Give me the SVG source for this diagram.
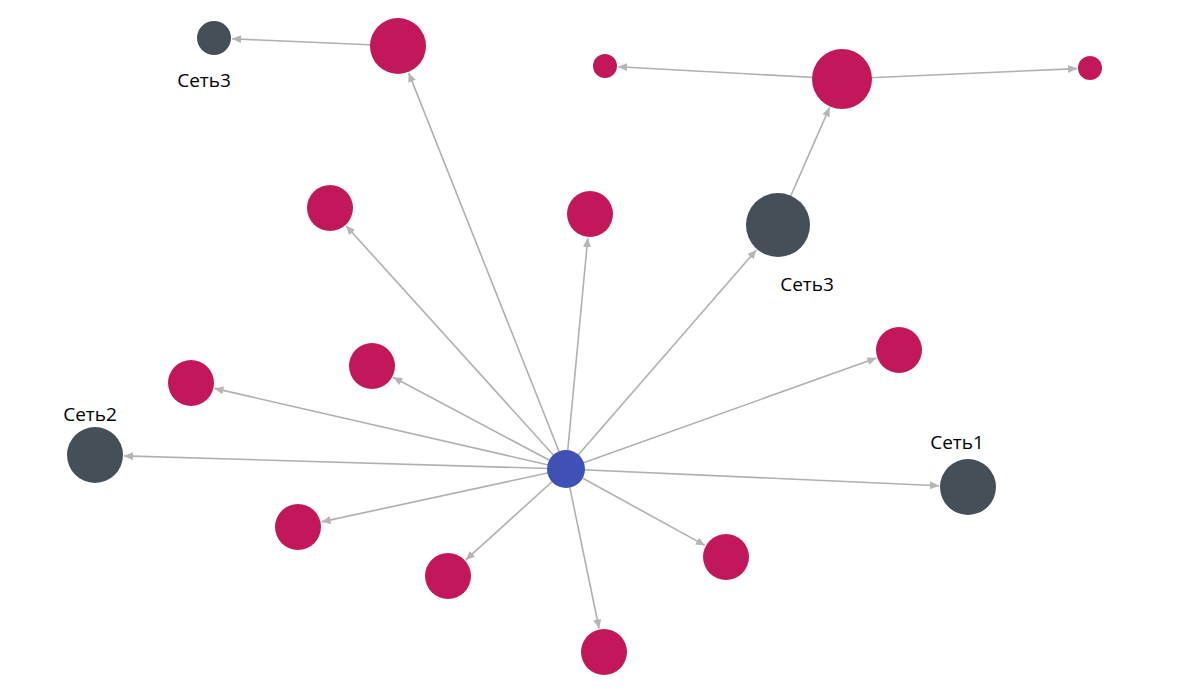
<svg xmlns="http://www.w3.org/2000/svg" width="1201" height="689" viewBox="0 0 1201 689">
<style>
.e{stroke:#b0b0b0;stroke-width:1.6;fill:none;marker-end:url(#arr)}
.p{fill:#c2185b}
.d{fill:#454f58}
.b{fill:#3f51b5}
.t{font-family:"Open Sans","Noto Sans",sans-serif;font-size:19px;fill:#000;text-anchor:middle}
</style>
<defs>
<marker id="arr" markerUnits="userSpaceOnUse" markerWidth="10" markerHeight="8" refX="9" refY="4" orient="auto">
<path d="M0,0 L9,4 L0,8 z" fill="#b5b5b5"/>
</marker>
</defs>
<rect width="1201" height="689" fill="#fff"/>
<g id="connectors">
<line class="e" x1="566" y1="469" x2="408.7" y2="72.9"/>
<line class="e" x1="566" y1="469" x2="346.1" y2="225.8"/>
<line class="e" x1="566" y1="469" x2="587.8" y2="237.9"/>
<line class="e" x1="566" y1="469" x2="756.4" y2="249.9"/>
<line class="e" x1="566" y1="469" x2="876.4" y2="358.1"/>
<line class="e" x1="566" y1="469" x2="393.2" y2="377.3"/>
<line class="e" x1="566" y1="469" x2="214.4" y2="388.4"/>
<line class="e" x1="566" y1="469" x2="124" y2="455.9"/>
<line class="e" x1="566" y1="469" x2="939" y2="485.7"/>
<line class="e" x1="566" y1="469" x2="321.5" y2="521.9"/>
<line class="e" x1="566" y1="469" x2="465.8" y2="559.9"/>
<line class="e" x1="566" y1="469" x2="705" y2="545.4"/>
<line class="e" x1="566" y1="469" x2="599.1" y2="628.5"/>
<line class="e" x1="398" y1="46" x2="232" y2="38.8"/>
<line class="e" x1="778" y1="225" x2="829.6" y2="107.4"/>
<line class="e" x1="842" y1="79" x2="618" y2="66.7"/>
<line class="e" x1="842" y1="79" x2="1077" y2="68.6"/>
</g>
<g id="n-center"><circle class="b" cx="566" cy="469" r="19"/></g>
<g id="n-net3a"><circle class="d" cx="214" cy="38" r="17"/><text class="t" x="204" y="87">Сеть3</text></g>
<g id="n-p1"><circle class="p" cx="398" cy="46" r="28"/></g>
<g id="n-p2"><circle class="p" cx="842" cy="79" r="30"/></g>
<g id="n-p3"><circle class="p" cx="605" cy="66" r="12"/></g>
<g id="n-p4"><circle class="p" cx="1090" cy="68" r="12"/></g>
<g id="n-p5"><circle class="p" cx="330" cy="208" r="23"/></g>
<g id="n-p6"><circle class="p" cx="590" cy="214" r="23"/></g>
<g id="n-net3b"><circle class="d" cx="778" cy="225" r="32"/><text class="t" x="807" y="291">Сеть3</text></g>
<g id="n-p7"><circle class="p" cx="899" cy="350" r="23"/></g>
<g id="n-p8"><circle class="p" cx="372" cy="366" r="23"/></g>
<g id="n-p9"><circle class="p" cx="191" cy="383" r="23"/></g>
<g id="n-net2"><circle class="d" cx="95" cy="455" r="28"/><text class="t" x="90" y="421">Сеть2</text></g>
<g id="n-net1"><circle class="d" cx="968" cy="487" r="28"/><text class="t" x="957" y="449">Сеть1</text></g>
<g id="n-p10"><circle class="p" cx="298" cy="527" r="23"/></g>
<g id="n-p11"><circle class="p" cx="448" cy="576" r="23"/></g>
<g id="n-p12"><circle class="p" cx="726" cy="557" r="23"/></g>
<g id="n-p13"><circle class="p" cx="604" cy="652" r="23"/></g>
</svg>
